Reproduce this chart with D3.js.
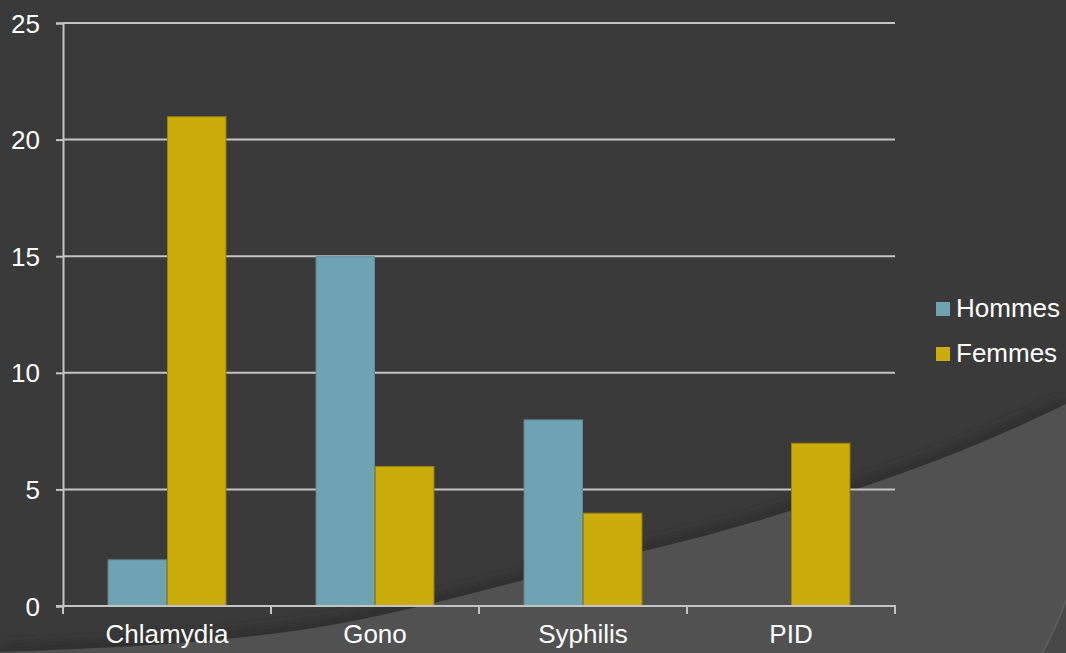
<!DOCTYPE html>
<html>
<head>
<meta charset="utf-8">
<script src="https://cdn.jsdelivr.net/npm/d3@7"></script>
<style>
  html, body { margin: 0; padding: 0; background: #3a3a3a; }
  svg { display: block; font-family: Arial, "Liberation Sans", sans-serif; }
</style>
</head>
<body>
<svg id="chart" width="1066" height="653"></svg>
<script>
// données du graphique
const categories = ["Chlamydia", "Gono", "Syphilis", "PID"];
const seriesNames = ["Hommes", "Femmes"];
const hommes = [2, 15, 8, 0];
const femmes = [21, 6, 4, 7];
const yTicks = [0, 5, 10, 15, 20, 25];
const colors = ["#6fa3b2", "#ccac0b"];
const strokes = ["#5e8b99", "#9c8410"];

const width = 1066, height = 653;
const margin = { left: 63, right: 171, top: 23, bottom: 47 };

const svg = d3.select("#chart");

// fond : zone claire courbée en bas à droite
const curvePts = [[0, 652], [300, 630], [430, 604], [520, 581], [780, 514], [1030, 421], [1066, 404]];
const curveLine = d3.line().curve(d3.curveMonotoneX);

const defs = svg.append("defs");
defs.append("filter").attr("id", "blur")
    .attr("x", "-10%").attr("y", "-50%").attr("width", "120%").attr("height", "200%")
    .append("feGaussianBlur").attr("stdDeviation", 6);

svg.append("rect").attr("width", width).attr("height", height).attr("fill", "#3a3a3a");

// ombre au-dessus de la courbe
svg.append("path")
    .attr("d", curveLine(curvePts))
    .attr("fill", "none")
    .attr("stroke", "#262626")
    .attr("stroke-width", 14)
    .attr("opacity", 0.6)
    .attr("filter", "url(#blur)");

svg.append("path")
    .attr("d", curveLine(curvePts) + `L${width},${height}L0,${height}Z`)
    .attr("fill", "#515151");

// petit pli dans le coin
svg.append("path")
    .attr("d", "M1066,600 Q1056,628 1042,653 L1066,653 Z")
    .attr("fill", "#474747");
svg.append("path")
    .attr("d", "M1066,600 Q1056,628 1042,653")
    .attr("fill", "none").attr("stroke", "#5c5c5c").attr("stroke-width", 2);

const x0 = d3.scaleBand()
    .domain(categories)
    .range([margin.left, width - margin.right])
    .paddingInner(0).paddingOuter(0);

const x1 = d3.scaleBand()
    .domain(seriesNames)
    .range([0, x0.bandwidth()])
    .paddingOuter(0.75).paddingInner(0);

const y = d3.scaleLinear()
    .domain([0, 25])
    .range([height - margin.bottom, margin.top]);

// lignes de grille
svg.append("g")
    .selectAll("line")
    .data(yTicks.filter(d => d > 0))
    .join("line")
    .attr("x1", margin.left).attr("x2", width - margin.right)
    .attr("y1", d => y(d)).attr("y2", d => y(d))
    .attr("stroke", "#c4c4c4").attr("stroke-width", 2);

// barres
const rows = categories.map((c, i) => ({ cat: c, values: [hommes[i], femmes[i]] }));
svg.append("g")
    .selectAll("g")
    .data(rows)
    .join("g")
    .attr("transform", d => `translate(${x0(d.cat)},0)`)
    .selectAll("rect")
    .data(d => d.values.map((v, k) => ({ key: seriesNames[k], k, v })))
    .join("rect")
    .filter(d => d.v > 0)
    .attr("x", d => x1(d.key) + 0.5)
    .attr("width", x1.bandwidth() - 1)
    .attr("y", d => y(d.v) + 0.5)
    .attr("height", d => y(0) - y(d.v) - 0.5)
    .attr("fill", d => colors[d.k])
    .attr("stroke", d => strokes[d.k])
    .attr("stroke-width", 1);

// axe Y
const yAxis = svg.append("g")
    .attr("transform", `translate(${margin.left},0)`)
    .call(d3.axisLeft(y).tickValues(yTicks).tickSize(7).tickPadding(16));
yAxis.select(".domain").attr("stroke", "#c4c4c4").attr("stroke-width", 2);
yAxis.selectAll(".tick line").attr("stroke", "#c4c4c4").attr("stroke-width", 2);
yAxis.selectAll(".tick text")
    .attr("fill", "#ffffff")
    .attr("font-size", 26)
    .attr("font-family", "Arial, 'Liberation Sans', sans-serif")
    .attr("dy", 9);

// axe X
const xAxis = svg.append("g")
    .attr("transform", `translate(0,${y(0)})`);
xAxis.append("line")
    .attr("x1", margin.left - 7).attr("x2", width - margin.right + 1)
    .attr("stroke", "#c4c4c4").attr("stroke-width", 2);
const bounds = categories.map(c => x0(c)).concat([x0(categories[categories.length - 1]) + x0.bandwidth()]);
xAxis.selectAll("line.tick")
    .data(bounds)
    .join("line")
    .attr("class", "tick")
    .attr("x1", d => d).attr("x2", d => d)
    .attr("y1", 0).attr("y2", 8)
    .attr("stroke", "#c4c4c4").attr("stroke-width", 2);
xAxis.selectAll("text")
    .data(categories)
    .join("text")
    .attr("x", d => x0(d) + x0.bandwidth() / 2)
    .attr("y", 37)
    .attr("text-anchor", "middle")
    .attr("fill", "#ffffff")
    .attr("font-size", 26)
    .text(d => d);

// légende
const legend = svg.append("g").attr("transform", "translate(936,302)");
const item = legend.selectAll("g")
    .data(seriesNames)
    .join("g")
    .attr("transform", (d, i) => `translate(0,${i * 45})`);
item.append("rect")
    .attr("width", 14).attr("height", 14)
    .attr("fill", (d, i) => colors[i]);
item.append("text")
    .attr("x", 20).attr("y", 15)
    .attr("fill", "#ffffff")
    .attr("font-size", 26)
    .text(d => d);
</script>
</body>
</html>
